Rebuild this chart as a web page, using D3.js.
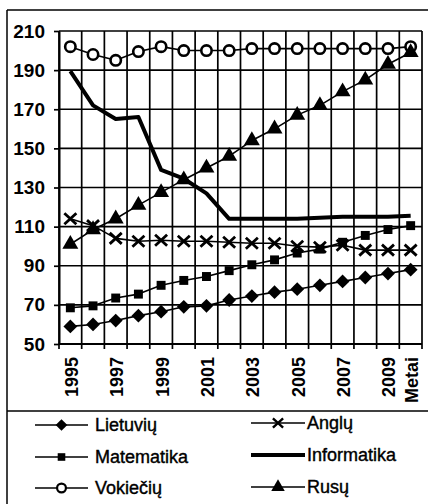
<!DOCTYPE html>
<html><head><meta charset="utf-8">
<script src="https://cdn.jsdelivr.net/npm/d3@7"></script>
<style>html,body{margin:0;padding:0;background:#fff;}svg{display:block;}</style>
</head><body>
<script>
const years = [1995,1996,1997,1998,1999,2000,2001,2002,2003,2004,2005,2006,2007,2008,2009,2010];
const xLabels = ["1995","","1997","","1999","","2001","","2003","","2005","","2007","","2009","Metai"];
const yTicks = [50,70,90,110,130,150,170,190,210];
const lietuviu = [59,60,62,64.5,66.5,69,69.5,72.5,74.5,76.5,78,80,82,84,86,88];
const anglu = [114,110.5,104,102.5,103,102.5,102.5,102,101.5,101.5,100,99.5,100.5,98,98,98];
const matematika = [68.5,69.5,73.5,75.5,80,82.5,84.5,87.5,90.5,93,96.5,98.5,102,105.5,108.5,110.5];
const informatika = [189.5,172,165,166,139,134.5,127,114,114,114,114,114.5,115,115,115,115.5];
const vokieciu = [202,198,195,199.5,202,200,200,200,201,201,201,201,201,201,201,202];
const rusu = [101,108.5,114,121,127.5,134,140,146,154,160,167,172,179,185,193,199];
const seriesNames = ["Lietuvių","Anglų","Matematika","Informatika","Vokiečių","Rusų"];

const W = 428, H = 504;
const L = 59, R = 422, T = 31, B = 344;
const font = "'Liberation Sans', Arial, sans-serif";

const svg = d3.select("body").append("svg").attr("width", W).attr("height", H);

// outer frame
svg.append("line").attr("x1",7).attr("x2",7).attr("y1",10).attr("y2",H).attr("stroke","#000").attr("stroke-width",1.5);
svg.append("line").attr("x1",7).attr("x2",W).attr("y1",10).attr("y2",10).attr("stroke","#000").attr("stroke-width",1.5);
svg.append("line").attr("x1",7).attr("x2",W).attr("y1",411).attr("y2",411).attr("stroke","#000").attr("stroke-width",1.5);

const x = d3.scaleBand().domain(years).range([L, R]).padding(0);
const y = d3.scaleLinear().domain([50, 210]).range([B, T]);
const cx = d => x(d) + x.bandwidth() / 2;

// gridlines
const g = svg.append("g");
g.selectAll("line.h").data(yTicks).join("line")
  .attr("x1", L).attr("x2", R).attr("y1", d => y(d)).attr("y2", d => y(d))
  .attr("stroke", "#000").attr("stroke-width", 1.7);
const bounds = years.map(d => x(d)).concat([R]);
g.selectAll("line.v").data(bounds).join("line")
  .attr("x1", d => d).attr("x2", d => d).attr("y1", T).attr("y2", B)
  .attr("stroke", "#000").attr("stroke-width", 1.7);

// y axis
const yAxis = svg.append("g").attr("transform", `translate(${L},0)`)
  .call(d3.axisLeft(y).tickValues(yTicks).tickSize(5).tickSizeOuter(0).tickPadding(9));
yAxis.select(".domain").attr("stroke-width", 2);
yAxis.selectAll(".tick line").attr("stroke-width", 1.7);
yAxis.selectAll("text").attr("font-family", font).attr("font-size", 19).attr("font-weight", "bold").attr("fill", "#000");

// x axis (ticks at band boundaries)
const xg = svg.append("g");
xg.append("line").attr("x1", L).attr("x2", R).attr("y1", B).attr("y2", B).attr("stroke", "#000").attr("stroke-width", 2);
xg.selectAll("line.t").data(bounds).join("line")
  .attr("x1", d => d).attr("x2", d => d).attr("y1", B).attr("y2", B + 5)
  .attr("stroke", "#000").attr("stroke-width", 1.7);
xg.selectAll("text").data(years).join("text")
  .attr("transform", d => `translate(${cx(d) + 1},${B + 13}) rotate(-90)`)
  .attr("text-anchor", "end").attr("dy", "0.36em")
  .attr("font-family", font).attr("font-size", 18).attr("font-weight", "bold").attr("fill", "#000")
  .text((d, i) => xLabels[i]);

// markers
const sym = (type, size) => d3.symbol().type(type).size(size)();
const markers = {
  diamond: { path: sym(d3.symbolSquare, 95), rot: 45, fill: "#000", stroke: "none", sw: 0 },
  times: { path: "M-6,-5.5L6,5.5M-6,5.5L6,-5.5", rot: 0, fill: "none", stroke: "#000", sw: 2.8 },
  square: { path: sym(d3.symbolSquare, 80), rot: 0, fill: "#000", stroke: "none", sw: 0 },
  circle: { path: sym(d3.symbolCircle, 85), rot: 0, fill: "#fff", stroke: "#000", sw: 2.6 },
  triangle: { path: sym(d3.symbolTriangle, 110), rot: 0, fill: "#000", stroke: "none", sw: 0 },
  none: null
};

const series = [
  { name: seriesNames[0], values: lietuviu, marker: "diamond", width: 1.6 },
  { name: seriesNames[1], values: anglu, marker: "times", width: 1.6 },
  { name: seriesNames[2], values: matematika, marker: "square", width: 1.6 },
  { name: seriesNames[3], values: informatika, marker: "none", width: 4 },
  { name: seriesNames[4], values: vokieciu, marker: "circle", width: 1.6 },
  { name: seriesNames[5], values: rusu, marker: "triangle", width: 1.6 }
];

const line = d3.line().x((d, i) => cx(years[i])).y(d => y(d));
function drawMarker(sel, m) {
  if (!m) return;
  sel.append("path").attr("d", m.path)
    .attr("transform", `rotate(${m.rot})`)
    .attr("fill", m.fill).attr("stroke", m.stroke).attr("stroke-width", m.sw);
}

series.forEach(s => {
  const gs = svg.append("g");
  gs.append("path").attr("d", line(s.values)).attr("fill", "none")
    .attr("stroke", "#000").attr("stroke-width", s.width).attr("stroke-linejoin", "round");
  const m = markers[s.marker];
  if (m) {
    s.values.forEach((v, i) => {
      const mg = gs.append("g").attr("transform", `translate(${cx(years[i])},${y(v)})`);
      drawMarker(mg, m);
    });
  }
});

// legend
const legendPos = [
  { x1: 35, x2: 88, tx: 95, y: 425 },
  { x1: 251, x2: 305, tx: 307, y: 423 },
  { x1: 35, x2: 88, tx: 95, y: 457 },
  { x1: 251, x2: 305, tx: 307, y: 455 },
  { x1: 35, x2: 88, tx: 95, y: 488 },
  { x1: 251, x2: 305, tx: 307, y: 487 }
];
const legendMarkerScale = 0.85;
series.forEach((s, i) => {
  const p = legendPos[i];
  const lg = svg.append("g");
  lg.append("line").attr("x1", p.x1).attr("x2", p.x2).attr("y1", p.y).attr("y2", p.y)
    .attr("stroke", "#000").attr("stroke-width", s.marker === "none" ? 4 : 1.6);
  const m = markers[s.marker];
  if (m) drawMarker(lg.append("g").attr("transform", `translate(${(p.x1 + p.x2) / 2},${p.y}) scale(${legendMarkerScale})`), m);
  lg.append("text").attr("x", p.tx).attr("y", p.y).attr("dy", "0.35em")
    .attr("font-family", font).attr("font-size", 18).attr("fill", "#000")
    .attr("stroke", "#000").attr("stroke-width", 0.4)
    .text(s.name);
});
</script>
</body></html>
